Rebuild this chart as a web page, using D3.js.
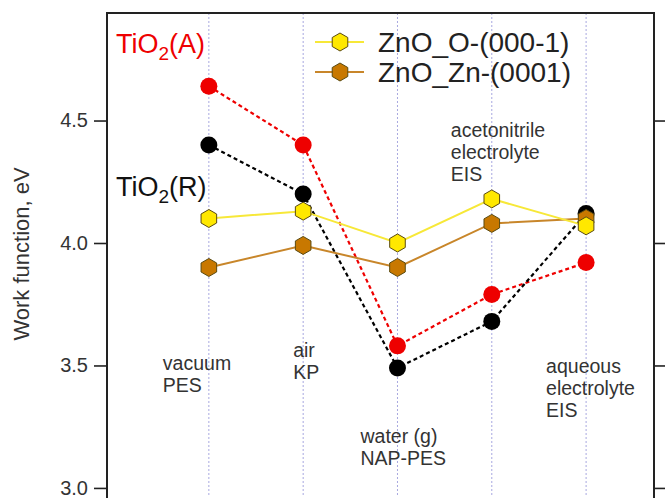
<!DOCTYPE html>
<html>
<head>
<meta charset="utf-8">
<script src="https://cdn.jsdelivr.net/npm/d3@7"></script>
<style>
  body { margin: 0; background: #fff; }
  svg { font-family: "Liberation Sans", Arial, sans-serif; }
</style>
</head>
<body>
<div id="chart"></div>
<script>
// categories along the x axis (index 0..4)
const categories = ["vacuum PES", "air KP", "water (g) NAP-PES", "acetonitrile electrolyte EIS", "aqueous electrolyte EIS"]
const yTicks = [3.0, 3.5, 4.0, 4.5]

const tio2A = [4.64, 4.40, 3.58, 3.79, 3.92]
const tio2R = [4.40, 4.20, 3.49, 3.68, 4.12]
const znoO = [4.10, 4.13, 4.00, 4.18, 4.07]
const znoZn = [3.90, 3.99, 3.90, 4.08, 4.10]

// category label lines and where they sit (value, offset from the gridline)
const catLabels = [
    { i: 0, lines: ["vacuum", "PES"], v: 3.48, dx: -46 },
    { i: 1, lines: ["air", "KP"], v: 3.535, dx: -10 },
    { i: 2, lines: ["water (g)", "NAP-PES"], v: 3.184, dx: -37 },
    { i: 3, lines: ["acetonitrile", "electrolyte", "EIS"], v: 4.433, dx: -41 },
    { i: 4, lines: ["aqueous", "electrolyte", "EIS"], v: 3.47, dx: -40 }
]

const W = 665, H = 498
const margin = { top: 13, right: 11, bottom: 1, left: 107 }

const svg = d3.select("#chart")
    .append("svg")
    .attr("width", W)
    .attr("height", H)

const x = d3.scaleLinear()
    .domain([-1.08, 4.72])
    .range([margin.left, W - margin.right])

const y = d3.scaleLinear()
    .domain([2.963, 4.939])
    .range([H - margin.bottom, margin.top])

/* dotted gridlines at each category */
svg.append("g")
    .selectAll("line")
    .data(categories)
    .enter()
    .append("line")
    .attr("x1", (d, i) => x(i))
    .attr("x2", (d, i) => x(i))
    .attr("y1", margin.top)
    .attr("y2", H - margin.bottom)
    .attr("stroke", "#a8a8e0")
    .attr("stroke-width", 1)
    .attr("stroke-dasharray", "2,2")

/* Y-axis left and right, ticks outward */
const yAxisL = svg.append("g")
    .attr("transform", `translate(${margin.left}, 0)`)
    .call(d3.axisLeft(y).tickValues(yTicks).tickFormat(d3.format(".1f")).tickSize(13).tickPadding(6))
yAxisL.select(".domain").remove()
yAxisL.selectAll("line").attr("stroke", "#222").attr("stroke-width", 1.6)
yAxisL.selectAll("text").attr("font-size", 20).attr("fill", "#333").attr("font-family", "Liberation Sans, Arial, sans-serif")

const yAxisR = svg.append("g")
    .attr("transform", `translate(${W - margin.right}, 0)`)
    .call(d3.axisRight(y).tickValues(yTicks).tickSize(13).tickFormat(""))
yAxisR.select(".domain").remove()
yAxisR.selectAll("line").attr("stroke", "#222").attr("stroke-width", 1.6)

/* frame */
svg.append("rect")
    .attr("x", margin.left)
    .attr("y", margin.top)
    .attr("width", W - margin.left - margin.right)
    .attr("height", H - margin.top - margin.bottom + 4)
    .attr("fill", "none")
    .attr("stroke", "#222")
    .attr("stroke-width", 2)

svg.append("text")
    .attr("transform", "rotate(-90)")
    .attr("x", -254)
    .attr("y", 29)
    .attr("text-anchor", "middle")
    .attr("font-size", 22)
    .attr("fill", "#333")
    .text("Work function, eV")

/* category labels */
catLabels.forEach(c => {
    const t = svg.append("text")
        .attr("x", x(c.i) + c.dx)
        .attr("y", y(c.v))
        .attr("font-size", 19.5)
        .attr("fill", "#333")
    c.lines.forEach((l, k) => {
        t.append("tspan")
            .attr("x", x(c.i) + c.dx)
            .attr("dy", k === 0 ? 0 : 22)
            .text(l)
    })
})

const line = d3.line()
    .x((d, i) => x(i))
    .y(d => y(d))

const hex = r => {
    const pts = d3.range(6).map(k => {
        const a = Math.PI / 3 * k - Math.PI / 2
        return [r * Math.cos(a), r * Math.sin(a)]
    })
    return "M" + pts.map(p => p.join(",")).join("L") + "Z"
}

function dashedSeries(data, color) {
    svg.append("path")
        .datum(data)
        .attr("d", line)
        .attr("fill", "none")
        .attr("stroke", color)
        .attr("stroke-width", 2.2)
        .attr("stroke-dasharray", "4,3")
    svg.selectAll(null)
        .data(data)
        .enter()
        .append("circle")
        .attr("cx", (d, i) => x(i))
        .attr("cy", d => y(d))
        .attr("r", 8.5)
        .attr("fill", color)
}

function hexSeries(data, lineColor, fill) {
    svg.append("path")
        .datum(data)
        .attr("d", line)
        .attr("fill", "none")
        .attr("stroke", lineColor)
        .attr("stroke-width", 2)
    svg.selectAll(null)
        .data(data)
        .enter()
        .append("path")
        .attr("transform", (d, i) => `translate(${x(i)}, ${y(d)})`)
        .attr("d", hex(9))
        .attr("fill", fill)
        .attr("stroke", "#5a4a10")
        .attr("stroke-width", 1)
}

dashedSeries(tio2A, "#ee0000")
dashedSeries(tio2R, "#000000")
hexSeries(znoZn, "#c8862a", "#c87800")
hexSeries(znoO, "#f7e838", "#ffe800")

/* series names */
const subLabel = (txt, tx, ty, color) => {
    const t = svg.append("text")
        .attr("x", tx)
        .attr("y", ty)
        .attr("font-size", 27)
        .attr("fill", color)
    t.append("tspan").text("TiO")
    t.append("tspan").attr("font-size", 19).attr("dy", 7).text("2")
    t.append("tspan").attr("dy", -7).text(txt)
}
subLabel("(A)", 116, 53, "#ee0000")
subLabel("(R)", 116, 196, "#111")

/* legend */
const legend = [
    { name: "ZnO_O-(000-1)", stroke: "#f7e838", fill: "#ffe800", ly: 42 },
    { name: "ZnO_Zn-(0001)", stroke: "#c8862a", fill: "#c87800", ly: 72 }
]
legend.forEach(l => {
    svg.append("line")
        .attr("x1", 315).attr("x2", 364)
        .attr("y1", l.ly).attr("y2", l.ly)
        .attr("stroke", l.stroke)
        .attr("stroke-width", 2)
    svg.append("path")
        .attr("transform", `translate(340, ${l.ly})`)
        .attr("d", hex(9))
        .attr("fill", l.fill)
        .attr("stroke", "#5a4a10")
        .attr("stroke-width", 1)
    svg.append("text")
        .attr("x", 378)
        .attr("y", l.ly + 10)
        .attr("font-size", 28)
        .attr("fill", "#222")
        .text(l.name)
})
</script>
</body>
</html>
